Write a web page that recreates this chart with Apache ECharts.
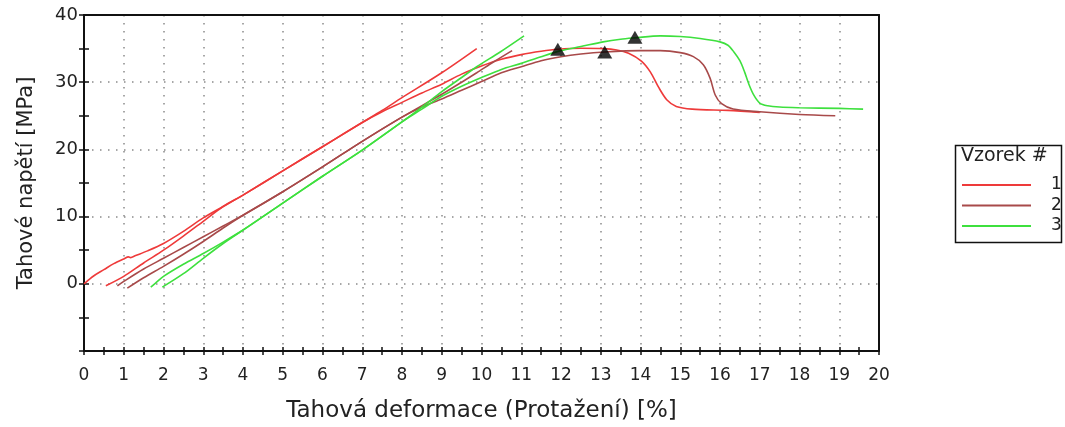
<!DOCTYPE html>
<html>
<head>
<meta charset="utf-8">
<script src="https://cdn.jsdelivr.net/npm/echarts@6/dist/echarts.min.js"></script>
<style>
  html, body { margin: 0; padding: 0; background: #fff; }
  #chart { width: 1065px; height: 427px; }
</style>
</head>
<body>
<div id="chart"></div>
<script>
// Tensile test curves: strain [%] vs stress [MPa], two runs per specimen
const specimenNames = ['1', '2', '3'];

// Specimen 1
const vzorek1a = [[0,0],[0.25,1.2],[0.5,2.1],[0.75,3.0],[1.0,3.7],[1.12,4.0],[1.17,3.9],[1.3,4.2],[1.6,4.9],[2.0,6.0],[2.5,7.8],[3.0,9.8],[3.5,11.5],[4.0,13.2],[5.0,16.8],[6.0,20.4],[7.0,24.0],[7.5,25.8],[8.0,27.7],[9.0,31.4],[9.88,35.0]];
const vzorek1b = [[0.55,-0.3],[1.0,1.1],[1.5,3.1],[2.0,5.0],[2.5,7.1],[3.0,9.3],[3.5,11.5],[4.0,13.2],[5.0,16.8],[6.0,20.4],[7.0,24.0],[7.5,25.6],[8.0,27.0],[8.5,28.4],[9.0,29.7],[9.5,31.2],[10.0,32.4],[10.5,33.4],[11.0,34.1],[11.5,34.6],[11.92,34.9],[12.5,35.05],[13.06,35.0],[13.4,34.8],[13.7,34.3],[14.03,33.1],[14.25,31.5],[14.45,29.3],[14.66,27.4],[14.9,26.4],[15.3,26.0],[16.2,25.8],[17.0,25.5]];

// Specimen 2
const vzorek2a = [[0.84,-0.3],[1.0,0.35],[1.5,2.2],[2.0,3.8],[2.5,5.4],[3.0,7.0],[3.5,8.6],[4.0,10.2],[5.0,13.7],[6.0,17.4],[7.0,21.2],[8.0,24.8],[8.5,26.3],[9.0,27.5],[9.5,28.8],[10.0,30.1],[10.5,31.4],[11.0,32.3],[11.5,33.2],[12.0,33.8],[12.5,34.2],[13.1,34.5],[14.0,34.7],[14.5,34.7],[15.0,34.4],[15.33,33.8],[15.58,32.6],[15.75,30.6],[15.88,28.1],[16.04,26.8],[16.33,26.0],[17.0,25.6],[18.0,25.2],[18.9,25.0]];
const vzorek2b = [[1.09,-0.65],[1.5,0.9],[2.0,2.6],[2.5,4.4],[3.0,6.3],[3.5,8.3],[4.0,10.2],[5.0,13.7],[6.0,17.4],[7.0,21.2],[8.0,24.8],[9.0,28.2],[9.5,30.0],[9.88,31.4],[10.3,33.0],[10.77,34.7]];

// Specimen 3
const vzorek3a = [[1.68,-0.5],[1.8,0.1],[2.0,1.1],[2.5,2.9],[3.0,4.5],[3.5,6.2],[4.0,8.0],[5.0,12.0],[6.0,16.0],[7.0,19.9],[8.0,24.1],[8.5,26.0],[9.0,27.9],[9.5,29.4],[10.0,30.7],[10.5,31.9],[11.0,32.8],[11.5,33.8],[12.0,34.7],[12.5,35.3],[13.06,36.0],[13.5,36.4],[13.86,36.6],[14.5,36.9],[15.0,36.8],[15.5,36.5],[16.0,36.0],[16.2,35.5],[16.35,34.5],[16.5,33.2],[16.62,31.5],[16.72,29.8],[16.84,28.2],[17.0,26.9],[17.2,26.5],[17.5,26.3],[18.0,26.2],[19.0,26.1],[19.6,26.0]];
const vzorek3b = [[1.97,-0.5],[2.5,1.5],[3.0,3.8],[3.5,6.0],[4.0,8.0],[5.0,12.0],[6.0,16.0],[7.0,19.9],[8.0,24.1],[8.5,26.3],[9.0,28.6],[9.5,30.7],[9.88,32.3],[10.47,34.5],[11.07,36.9]];

// Maximum stress points
const maxima = [[11.92,34.9],[13.1,34.5],[13.86,36.7]];

// Axis ranges and tick steps
const xTicks = { min: 0, max: 20, step: 1 };
const yTicks = { min: -10, max: 40, step: 10 };

const colors = { '1': '#ee3a3a', '2': '#a84a4a', '3': '#3ee03e' };
const FONT = 'DejaVu Sans';
const INK = '#111';

function curve(name, data) {
  return {
    name: name,
    type: 'line',
    data: data,
    smooth: 0.3,
    showSymbol: false,
    symbol: 'none',
    lineStyle: { color: colors[name], width: 1.6 },
    itemStyle: { color: colors[name] },
    xAxisIndex: 0,
    yAxisIndex: 0,
    z: 3,
    animation: false
  };
}

const dotted = { color: '#8a8a8a', width: 1.5, type: [1.5, 6.5] };
const tickStyle = { color: INK, width: 1.5 };

// plain axis used only to draw a frame edge
function frameAxis(range, position) {
  return {
    type: 'value', min: range.min, max: range.max, interval: range.step, position: position,
    axisLine: { show: true, onZero: false, lineStyle: { color: INK, width: 2 } },
    axisTick: { show: false }, minorTick: { show: false },
    axisLabel: { show: false }, splitLine: { show: false }, z: 10
  };
}

// second axis on the same edge carrying the inner half of the ticks
function innerTickAxis(range, position, len) {
  return {
    type: 'value', min: range.min, max: range.max, interval: range.step, position: position,
    axisLine: { show: false, onZero: false },
    axisTick: { show: true, inside: true, length: len, lineStyle: tickStyle },
    minorTick: { show: true, splitNumber: 2, length: len, lineStyle: tickStyle },
    axisLabel: { show: false }, splitLine: { show: false }
  };
}

const chart = echarts.init(document.getElementById('chart'), null, { renderer: 'canvas' });
chart.setOption({
  animation: false,
  grid: { left: 84, top: 15, right: 186, bottom: 76, show: false, outerBoundsMode: 'none' },
  xAxis: [
    {
      type: 'value', min: xTicks.min, max: xTicks.max, interval: xTicks.step,
      name: 'Tahová deformace (Protažení) [%]',
      nameLocation: 'middle', nameGap: 49,
      nameTextStyle: { fontFamily: FONT, fontSize: 23, color: '#222' },
      axisLine: { show: true, onZero: false, lineStyle: { color: INK, width: 2 } },
      axisTick: { show: true, length: 4, lineStyle: tickStyle },
      minorTick: { show: true, splitNumber: 2, length: 4, lineStyle: tickStyle },
      axisLabel: { fontFamily: FONT, fontSize: 17, color: '#222', margin: 16 },
      splitLine: { show: true, lineStyle: dotted }
    },
    innerTickAxis(xTicks, 'bottom', 4),
    frameAxis(xTicks, 'top')
  ],
  yAxis: [
    {
      type: 'value', min: yTicks.min, max: yTicks.max, interval: yTicks.step,
      name: 'Tahové napětí [MPa]',
      nameLocation: 'middle', nameGap: 47,
      nameTextStyle: { fontFamily: FONT, fontSize: 21, color: '#222' },
      axisLine: { show: true, onZero: false, lineStyle: { color: INK, width: 2 } },
      axisTick: { show: true, length: 5, lineStyle: tickStyle },
      minorTick: { show: true, splitNumber: 2, length: 5, lineStyle: tickStyle },
      axisLabel: {
        fontFamily: FONT, fontSize: 18, color: '#222', margin: 6,
        formatter: v => (v < 0 ? '' : String(v))
      },
      splitLine: { show: true, lineStyle: dotted }
    },
    innerTickAxis(yTicks, 'left', 5),
    frameAxis(yTicks, 'right')
  ],
  legend: {
    data: specimenNames,
    orient: 'vertical',
    left: 957, top: 170,
    icon: 'rect',
    itemWidth: 69, itemHeight: 2,
    itemGap: 0.5,
    selectedMode: false,
    textStyle: { fontFamily: FONT, fontSize: 17, color: '#222', lineHeight: 17, padding: [3, 0, 0, 15] }
  },
  graphic: [
    {
      type: 'rect', left: 953, top: 143,
      shape: { width: 106, height: 97 },
      style: { fill: 'none', stroke: INK, lineWidth: 1.5 },
      silent: true
    },
    {
      type: 'text', left: 961, top: 147,
      style: { text: 'Vzorek #', fontFamily: FONT, fontSize: 19, fill: '#222' },
      silent: true
    }
  ],
  series: [
    curve('1', vzorek1a),
    curve('1', vzorek1b),
    curve('2', vzorek2a),
    curve('2', vzorek2b),
    curve('3', vzorek3a),
    curve('3', vzorek3b),
    {
      name: 'maxima',
      type: 'scatter',
      data: maxima,
      symbol: 'triangle',
      symbolSize: [15, 13],
      itemStyle: { color: '#000' },
      z: 5,
      animation: false
    }
  ]
});
</script>
</body>
</html>
